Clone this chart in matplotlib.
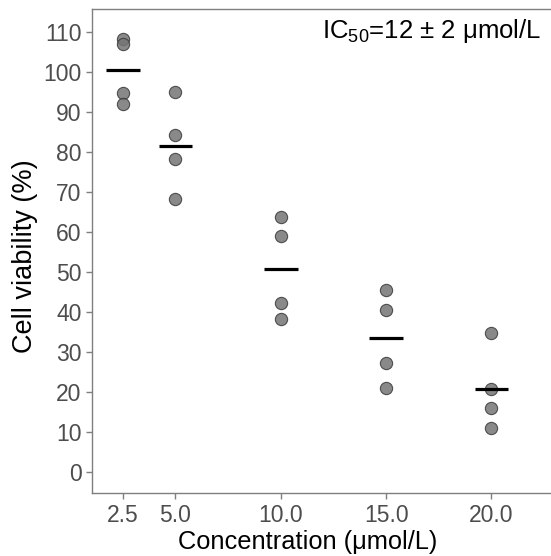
import matplotlib
matplotlib.use("Agg")
import matplotlib.pyplot as plt
import numpy as np

plt.rcParams['font.family'] = ['Liberation Sans', 'DejaVu Sans']
plt.rcParams['mathtext.fontset'] = 'custom'
plt.rcParams['mathtext.rm'] = 'Liberation Sans'
plt.rcParams['mathtext.it'] = 'Liberation Sans'

concentrations = [2.5, 5.0, 10.0, 15.0, 20.0]
x_tick_labels = ["2.5", "5.0", "10.0", "15.0", "20.0"]
viability = [
    [108.1, 107.0, 94.7, 92.0],
    [94.9, 84.2, 78.2, 68.3],
    [63.6, 59.0, 42.1, 38.3],
    [45.4, 40.4, 27.2, 21.0],
    [34.8, 20.6, 16.0, 10.9],
]
y_ticks = list(range(0, 111, 10))

W, H = 551, 556
fig = plt.figure(figsize=(W / 100, H / 100), dpi=100)
left, right, top, bottom = 92, 556, 9.3, 493.3
ax = fig.add_axes([left / W, 1 - bottom / H, (right - left) / W, (bottom - top) / H])

for c, vals in zip(concentrations, viability):
    ax.scatter([c] * len(vals), vals, s=78, facecolor='#747474', edgecolor='#3a3a3a',
               linewidth=0.8, alpha=0.85, zorder=3)
    m = np.mean(vals)
    ax.hlines(m, c - 0.8, c + 0.8, colors='black', linewidth=2.3, zorder=4)

ax.set_xlim(1.043, 1.043 + (right - left) / 21.07)
ax.set_ylim(-5.4, 115.6)
ax.set_xticks(concentrations)
ax.set_xticklabels(x_tick_labels)
ax.set_yticks(y_ticks)
ax.set_yticklabels([str(t) for t in y_ticks])
ax.tick_params(axis='both', colors='#7f7f7f', labelcolor='#4d4d4d', labelsize=16.5,
               length=4.5, width=1.0, pad=3)
for sp in ax.spines.values():
    sp.set_color('#7f7f7f')
    sp.set_linewidth(1.0)

fig.text(25 / W, 1 - 256 / H, "Cell viability (%)", rotation=90, ha='center', va='center',
         fontsize=19.5, color='black')
fig.text(307.5 / W, 1 - 549.5 / H, "Concentration (μmol/L)", ha='center', va='baseline',
         fontsize=18.3, color='black')
fig.text(541 / W, 1 - 38 / H, "IC$_{50}$=12 ± 2 μmol/L", ha='right', va='baseline',
         fontsize=18.5, color='black')

fig.savefig("out.png", dpi=100)
